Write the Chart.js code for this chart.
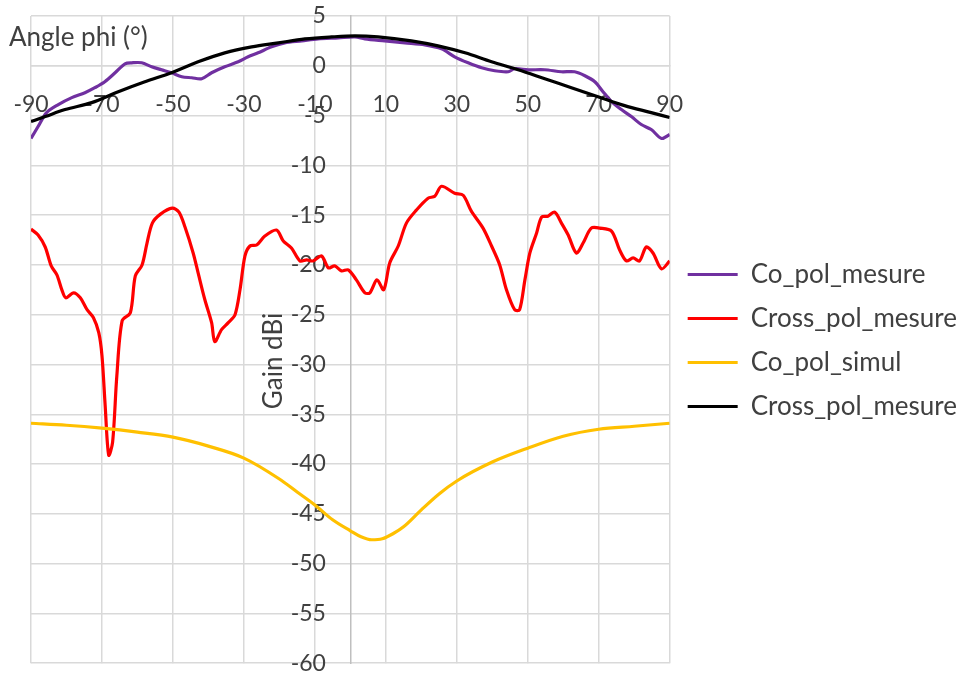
<!DOCTYPE html>
<html>
<head>
<meta charset="utf-8">
<script src="https://cdn.jsdelivr.net/npm/chart.js@4/dist/chart.umd.min.js"></script>
<style>
html,body{margin:0;padding:0;background:#ffffff;}
#wrap{width:961px;height:677px;position:relative;}
</style>
</head>
<body>
<div id="wrap"><canvas id="c"></canvas></div>
<script>
// ---- Data ----
const xTitle = 'Angle phi (°)';
const yTitle = 'Gain dBi';
const seriesNames = ['Co_pol_mesure', 'Cross_pol_mesure', 'Co_pol_simul', 'Cross_pol_mesure'];

const coPolMesAngle = [-90,-88,-85.6,-82.3,-78.5,-74.8,-72,-69.2,-66.3,-63.5,-61.6,-58.8,-56,-53.2,-50.4,-47.5,-44.7,-41.9,-39.1,-35.4,-31.6,-28.8,-26,-22.2,-18.5,-13.7,-9.1,-3.4,1.3,4.1,9.7,15.4,21,25.7,29.4,33.2,37,40.7,44.5,46.3,50.1,54.8,59.5,63.2,66.1,68.9,71.2,73.6,76.4,79.2,82,84.8,87.7,90];
const coPolMesGain  = [-7.3,-6.1,-4.7,-3.9,-3.2,-2.7,-2.2,-1.6,-0.7,0.2,0.3,0.3,-0.1,-0.4,-0.7,-1.1,-1.2,-1.3,-0.7,-0.1,0.4,0.9,1.3,1.9,2.3,2.5,2.7,2.8,2.9,2.7,2.5,2.3,2.1,1.7,0.9,0.3,-0.2,-0.5,-0.6,-0.3,-0.4,-0.4,-0.6,-0.6,-1.0,-1.6,-2.6,-3.6,-4.4,-5.1,-5.9,-6.4,-7.3,-6.9];

const crossPolMesAngle = [-90,-88,-86,-84.3,-82.7,-81.3,-80.2,-78,-76.1,-74.2,-72.4,-70.9,-70,-69.1,-68.1,-67,-65.8,-64.3,-62,-60.6,-58.7,-57.3,-55.8,-53.5,-50.2,-48.3,-46.6,-44.3,-42.9,-41,-39.1,-38.2,-36.3,-34.4,-32.5,-31.1,-29.7,-28.3,-26.4,-24.1,-20.8,-18.9,-16.6,-14.2,-12.3,-10.5,-8.1,-6.2,-4.4,-2.5,-0.6,1.7,4.1,5.5,7.5,9.4,11.1,13.5,15.8,18.6,21.9,23.8,25.7,29.4,31.8,34.1,37.4,39.8,42.1,44,46.3,47.7,49.2,50.6,52.5,53.9,55.7,57.6,59.5,61.4,63.7,65.6,67.9,70.3,73.6,75.9,77.8,79.7,81.5,83.4,85.3,87.7,90];
const crossPolMesGain  = [-16.4,-17,-18.2,-20.1,-21,-22.5,-23.3,-22.8,-23.3,-24.5,-25.3,-26.8,-29.1,-34.1,-39.1,-37.8,-31.1,-25.6,-24.8,-21.1,-20,-17.8,-15.8,-14.9,-14.3,-14.7,-16.2,-18.8,-20.8,-23.5,-25.8,-27.7,-26.5,-25.8,-25,-22.5,-19.1,-18.1,-18,-17.1,-16.5,-17.6,-18.3,-19.6,-19.5,-19.6,-19.1,-20.3,-20.1,-20.6,-20.5,-21.5,-22.8,-22.8,-21.5,-22.5,-19.8,-18.1,-15.8,-14.5,-13.3,-13.1,-12.1,-12.8,-13,-14.6,-16.3,-18.1,-20,-22.5,-24.5,-24.5,-21.5,-18.8,-16.8,-15.2,-15.1,-14.7,-15.8,-17,-18.8,-17.8,-16.3,-16.3,-16.6,-18.5,-19.6,-19.3,-19.6,-18.2,-18.8,-20.4,-19.6];

const coPolSimAngle = [-90,-80,-70,-60,-50,-40,-30,-20,-15,-10,-5,0,3,6,9,12,15,20,25,30,40,50,60,70,80,90];
const coPolSimGain  = [-35.9,-36.1,-36.4,-36.8,-37.3,-38.2,-39.4,-41.5,-42.8,-44.1,-45.6,-46.7,-47.3,-47.6,-47.5,-47.0,-46.3,-44.6,-43.0,-41.7,-39.8,-38.4,-37.2,-36.5,-36.2,-35.9];

const crossPolSimAngle = [-90,-86,-80.4,-72.9,-65.4,-57.9,-50.4,-42.9,-35.4,-27.8,-20.3,-12.8,-5.3,1.3,7.8,17.2,24.7,32.3,39.8,47.3,54.8,62.3,69.8,77.3,84.8,90];
const crossPolSimGain  = [-5.6,-5.1,-4.4,-3.7,-2.6,-1.6,-0.7,0.4,1.3,1.9,2.3,2.7,2.9,3.0,2.9,2.5,2.0,1.3,0.4,-0.4,-1.3,-2.2,-3.1,-4.0,-4.7,-5.2];

const xMin = -90, xMax = 90, xStep = 20;
const yMin = -60, yMax = 5, yStep = 5;

// ---- Styling ----
const colors = ['#7030A0', '#FF0000', '#FFC000', '#000000'];
const textColor = '#404040';
const gridColor = '#d9d9d9';
const fontFamily = 'Lato, Carlito, "Open Sans", sans-serif';
const yLabelAnchor = -6.9;   // where the y tick labels' right edge sits (keeps a gap from the axis line)

function pts(xs, ys){ return xs.map((x,i)=>({x:x, y:ys[i]})); }

const seriesData = [
  pts(coPolMesAngle, coPolMesGain),
  pts(crossPolMesAngle, crossPolMesGain),
  pts(coPolSimAngle, coPolSimGain),
  pts(crossPolSimAngle, crossPolSimGain)
];
const drawOrder = [3, 2, 1, 0];
const interp = ['default', 'default', 'monotone', 'monotone'];

const datasets = seriesData.map((d,i)=>({
  label: seriesNames[i],
  data: d,
  showLine: true,
  borderColor: colors[i],
  backgroundColor: colors[i],
  borderWidth: 3.2,
  pointRadius: 0,
  pointHoverRadius: 0,
  pointStyle: 'line',
  tension: 0.3,
  cubicInterpolationMode: interp[i],
  order: drawOrder[i]
}));

const titlesPlugin = {
  id: 'axisTitles',
  beforeDatasetsDraw(chart){
    const c = chart.ctx;
    c.save();
    c.fillStyle = textColor;
    c.font = '26px ' + fontFamily;
    c.textAlign = 'left';
    c.textBaseline = 'middle';
    c.fillText(xTitle, 9, 38);
    c.translate(274, 361);
    c.rotate(-Math.PI/2);
    c.textAlign = 'center';
    c.fillText(yTitle, 0, 0);
    c.restore();
  }
};

new Chart(document.getElementById('c'), {
  type: 'scatter',
  data: { datasets: datasets },
  plugins: [titlesPlugin],
  options: {
    responsive: true,
    maintainAspectRatio: false,
    animation: false,
    layout: { padding: { left: 31, top: 16, bottom: 12, right: -6 } },
    plugins: {
      legend: {
        position: 'right',
        maxWidth: 400,
        labels: {
          usePointStyle: true,
          pointStyleWidth: 50,
          boxHeight: 3,
          padding: 18,
          color: textColor,
          font: { family: fontFamily, size: 26 },
          sort: (a, b) => a.datasetIndex - b.datasetIndex
        }
      },
      tooltip: { enabled: false }
    },
    scales: {
      x: {
        type: 'linear',
        min: xMin, max: xMax,
        position: { y: 0 },
        ticks: { stepSize: xStep, color: textColor, font: { family: fontFamily, size: 23 }, padding: 0 },
        grid: { color: gridColor, lineWidth: 1.5, drawTicks: true, tickLength: 25, tickColor: 'rgba(0,0,0,0)' },
        border: { color: gridColor, width: 1.5 }
      },
      y: {
        type: 'linear',
        min: yMin, max: yMax,
        position: { x: yLabelAnchor },
        ticks: { stepSize: yStep, color: textColor, font: { family: fontFamily, size: 23 }, padding: 0 },
        grid: { color: gridColor, lineWidth: 1.5, drawTicks: false },
        border: { display: false }
      },
      yAxisLine: {
        axis: 'y',
        type: 'linear',
        min: yMin, max: yMax,
        position: { x: 0 },
        ticks: { display: false },
        grid: { display: false },
        border: { display: true, color: '#bfbfbf', width: 1.5 }
      }
    }
  }
});
</script>
</body>
</html>
